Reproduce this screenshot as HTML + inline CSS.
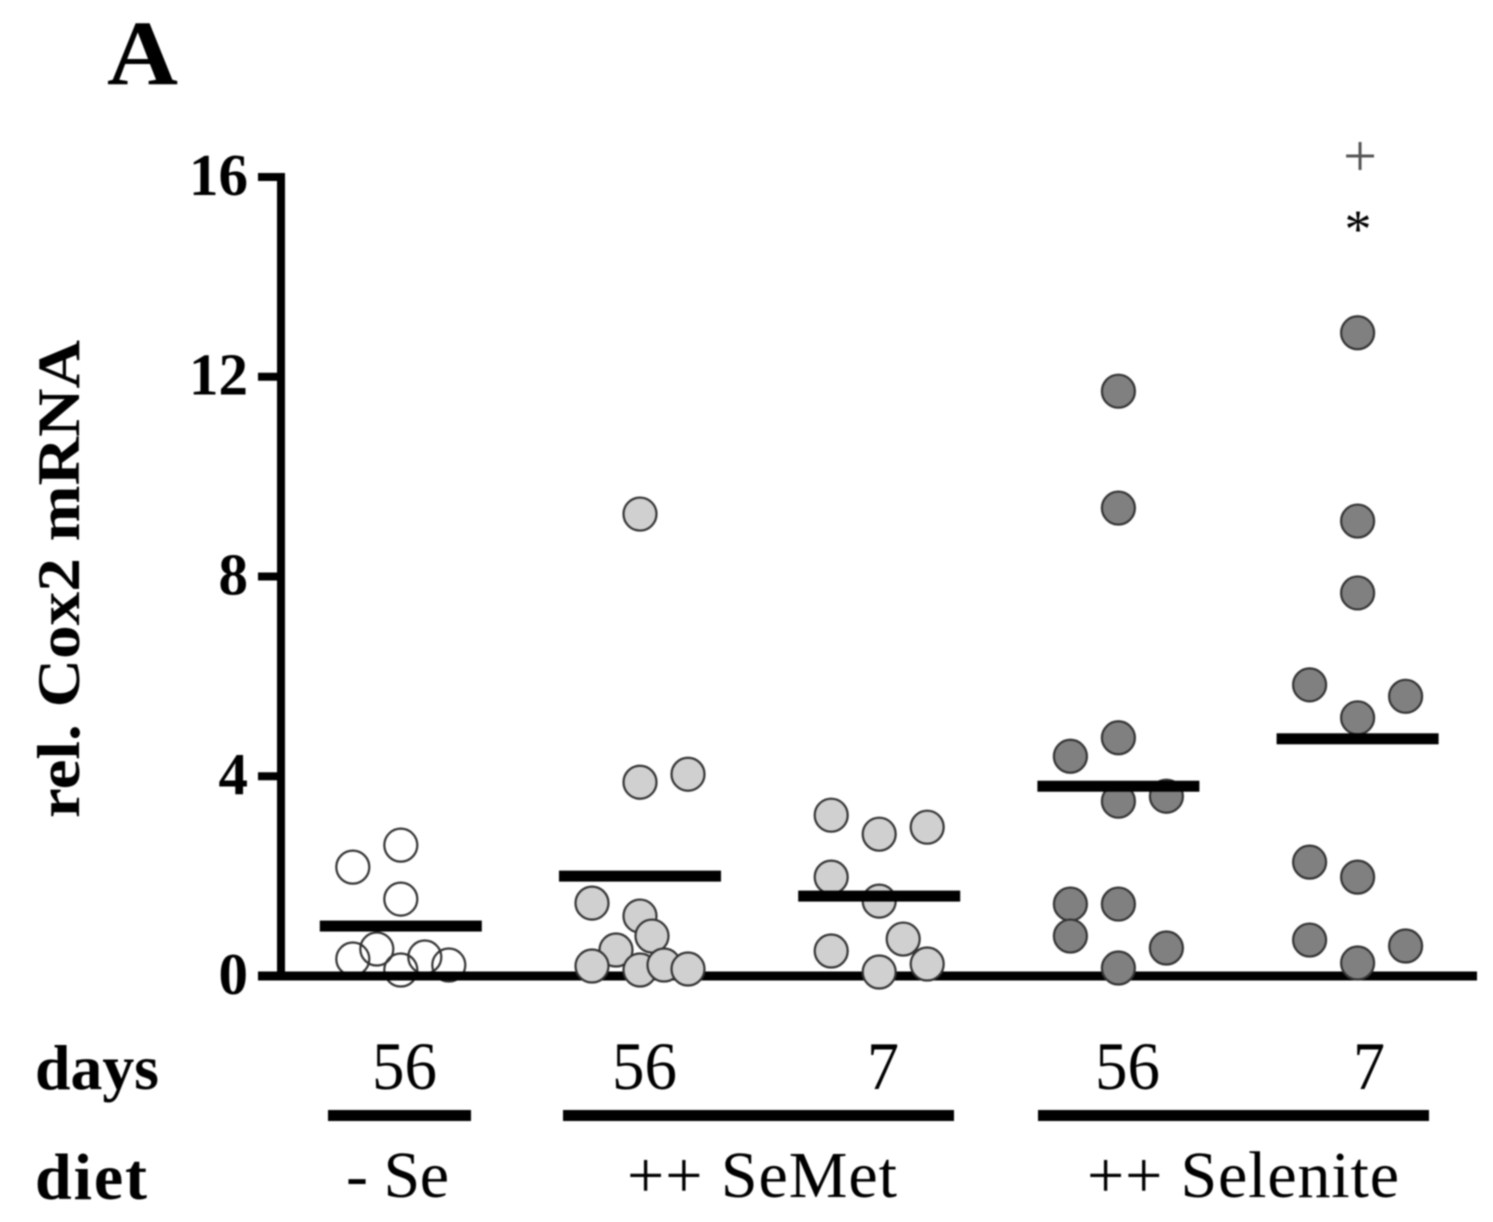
<!DOCTYPE html>
<html lang="en">
<head>
<meta charset="utf-8">
<title>rel. Cox2 mRNA</title>
<style>
html,body{margin:0;padding:0;background:#fff;width:1493px;height:1222px;overflow:hidden}
svg{display:block;filter:blur(0.8px)}
text{font-family:"Liberation Serif",serif;fill:#000}
.b{font-weight:bold}
</style>
</head>
<body>
<svg id="chart" width="1493" height="1222" viewBox="0 0 1493 1222" xmlns="http://www.w3.org/2000/svg">
  <text class="b" x="107" y="84" font-size="92" textLength="71" lengthAdjust="spacingAndGlyphs">A</text>
  <text class="b" transform="translate(79,818) rotate(-90)" font-size="60" textLength="478" lengthAdjust="spacingAndGlyphs">rel. Cox2 mRNA</text>
  <g id="marks"></g>
  <text x="1360" y="176" font-size="60" text-anchor="middle" style="fill:#555">+</text>
  <text x="1358" y="247" font-size="54" text-anchor="middle">*</text>
  <text class="b" x="35" y="1089" font-size="63" textLength="124" lengthAdjust="spacingAndGlyphs">days</text>
  <text class="b" x="35" y="1199" font-size="66" textLength="112" lengthAdjust="spacing">diet</text>
  <text x="372" y="1089" font-size="68" textLength="65" lengthAdjust="spacingAndGlyphs">56</text>
  <text x="612" y="1089" font-size="68" textLength="65" lengthAdjust="spacingAndGlyphs">56</text>
  <text x="867" y="1089" font-size="68" textLength="32" lengthAdjust="spacingAndGlyphs">7</text>
  <text x="1095" y="1089" font-size="68" textLength="65" lengthAdjust="spacingAndGlyphs">56</text>
  <text x="1353" y="1089" font-size="68" textLength="32" lengthAdjust="spacingAndGlyphs">7</text>
  <rect x="328" y="1110" width="143" height="11" fill="#000"/>
  <rect x="563" y="1110" width="391" height="11" fill="#000"/>
  <rect x="1038" y="1110" width="391" height="11" fill="#000"/>
  <text x="346" y="1197" font-size="66" textLength="103" lengthAdjust="spacing">- Se</text>
  <text x="627" y="1197" font-size="66" textLength="270" lengthAdjust="spacing">++ SeMet</text>
  <text x="1087" y="1197" font-size="66" textLength="312" lengthAdjust="spacing">++ Selenite</text>
</svg>
<script>
const groupNames = ["noSe56", "semet56", "semet7", "selenite56", "selenite7"];
const yTicks = [0, 4, 8, 12, 16];
const tickLabels = ["0", "4", "8", "12", "16"];
const means = [1.0, 2.0, 1.6, 3.8, 4.75];
const noSe56Values = [2.18, 2.62, 1.54, 0.34, 0.54, 0.38, 0.12, 0.22];
const noSe56Jitter = [-1, 0, 0, -1, -0.5, 0.5, 0, 1];
const semet56Values = [9.25, 3.88, 4.04, 1.46, 1.2, 0.8, 0.52, 0.2, 0.12, 0.22, 0.14];
const semet56Jitter = [0, 0, 1, -1, 0, 0.25, -0.5, -1, 0, 0.5, 1];
const semet7Values = [3.22, 2.84, 2.98, 1.98, 1.5, 0.74, 0.5, 0.24, 0.08];
const semet7Jitter = [-1, 0, 1, -1, 0, 0.5, -1, 1, 0];
const selenite56Values = [11.71, 9.37, 4.77, 4.4, 3.5, 3.6, 1.44, 1.44, 0.8, 0.56, 0.16];
const selenite56Jitter = [0, 0, 0, -1, 0, 1, -1, 0, -1, 1, 0];
const selenite7Values = [12.88, 9.11, 7.67, 5.83, 5.6, 5.17, 2.28, 1.98, 0.72, 0.6, 0.26];
const selenite7Jitter = [0, 0, 0, -1, 1, 0, -1, 0, -1, 1, 0];
const groupValues = [noSe56Values, semet56Values, semet7Values, selenite56Values, selenite7Values];
const groupJitter = [noSe56Jitter, semet56Jitter, semet7Jitter, selenite56Jitter, selenite7Jitter];

const groupFill = ["none", "#d0d0d0", "#d0d0d0", "#808080", "#808080"];
const NS = "http://www.w3.org/2000/svg";
const marks = document.getElementById("marks");
const yScale = v => 976 - v * 49.94;
const xScale = (g, j) => 400.8 + g * 239.2 + j * 48;

function make(tag, attrs) {
  const el = document.createElementNS(NS, tag);
  for (const k in attrs) el.setAttribute(k, attrs[k]);
  marks.appendChild(el);
  return el;
}

// Open circles sit under the axis
groupNames.forEach((name, g) => {
  if (groupFill[g] !== "none") return;
  groupValues[g].forEach((v, i) => {
    const c = make("circle", {cx: xScale(g, groupJitter[g][i]), cy: yScale(v), r: 16.5, fill: "none", stroke: "#333", "stroke-width": 2.2});
    
    
  });
});

const yAxis = make("line", {x1: 281, x2: 281, y1: yScale(16) - 4, y2: yScale(0), stroke: "#000", "stroke-width": 8});


const xAxis = make("line", {x1: 258, x2: 1477, y1: yScale(0), y2: yScale(0), stroke: "#000", "stroke-width": 9});



yTicks.forEach((t, i) => {
  const tick = make("line", {x1: 258, x2: 281, y1: yScale(t), y2: yScale(t), stroke: "#000", "stroke-width": 8});
  
  
  const label = make("text", {x: 248, y: yScale(t) + 18, "font-size": 59, "text-anchor": "end", class: "b"});
  label.textContent = tickLabels[i];
  
  
});

// Filled circles sit over the axis
groupNames.forEach((name, g) => {
  if (groupFill[g] === "none") return;
  groupValues[g].forEach((v, i) => {
    const c = make("circle", {cx: xScale(g, groupJitter[g][i]), cy: yScale(v), r: 16.5, fill: groupFill[g], stroke: "#333", "stroke-width": 2.2});
    
    
  });
});

means.forEach((m, g) => {
  const bar = make("rect", {x: xScale(g, 0) - 81, y: yScale(m) - 5.5, width: 162, height: 11, fill: "#000"});
  
  
});
</script>
</body>
</html>
